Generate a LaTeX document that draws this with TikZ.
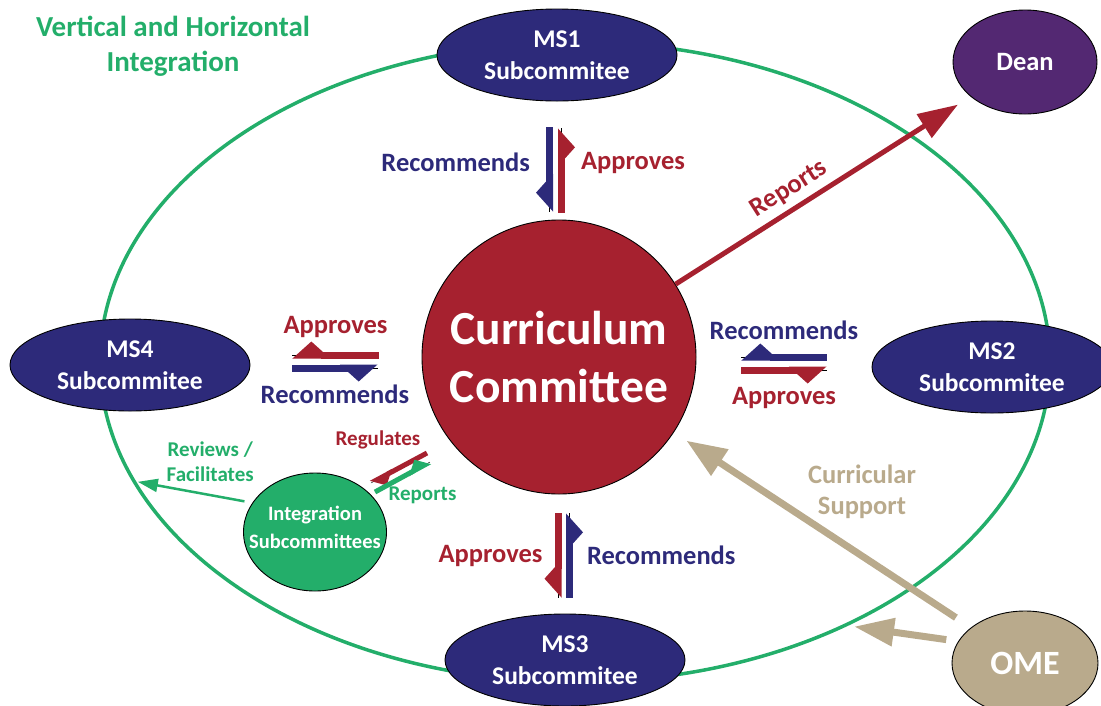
\documentclass[tikz,border=0pt]{standalone}
\usepackage{fontspec}
\setmainfont{Carlito}
\usetikzlibrary{%
  arrows.meta,%
  shapes.geometric,% ellipse
  positioning%
}
\definecolor{navy}{RGB}{45,42,122}
\definecolor{crimson}{RGB}{166,33,47}
\definecolor{leaf}{RGB}{35,174,106}
\definecolor{plum}{RGB}{83,40,114}
\definecolor{sand}{RGB}{185,170,140}
\newcommand{\fs}[2]{\bfseries\fontsize{#1}{#2}\selectfont}

\begin{document}
\begin{tikzpicture}[x=1pt,y=-1pt,
    sub/.style={ellipse,draw=black,line width=0.9pt,fill=navy,text=white,minimum width=240pt,
      minimum height=92pt,inner sep=0pt,align=center,font=\fs{25.5}{32}},
    harp/.style={line width=7pt,preaction={draw,arrows=-},-{Kite[#1,length=30pt,width=27pt,inset=15pt]}},
    thinharp/.style={line width=5pt,preaction={draw,arrows=-},-{Kite[#1,length=20pt,width=19pt,inset=10pt]}},
    lbl/.style={inner sep=1pt,font=\fs{26.5}{31}},
    small/.style={inner sep=1pt,font=\fs{21}{25},align=center}]
  \useasboundingbox (0,0) rectangle (1101,705);

  % outer ring
  \node[ellipse,draw=leaf,line width=3.5pt,minimum width=950pt,minimum height=640pt] (ring) at (575,362) {};
  \node[text=leaf,font=\fs{29}{35},align=center] (title) at (173,46) {Vertical and Horizontal\\Integration};

  \node[circle,draw=black,line width=0.9pt,fill=crimson,text=white,minimum size=274pt,inner sep=0pt,
    align=center,font=\fs{47.5}{58}] (cc) at (559,357) {Curriculum\\Committee};

  \node[sub] (ms1) at (557,55) {MS1\\Subcommitee};
  \node[sub] (ms2) at (992,367) {MS2\\Subcommitee};
  \node[sub] (ms3) at (565,660) {MS3\\Subcommitee};
  \node[sub] (ms4) at (130,365) {MS4\\Subcommitee};

  \node[ellipse,draw=black,line width=0.9pt,fill=plum,text=white,minimum width=144pt,minimum height=104pt,
    font=\fs{26.5}{30}] (dean) at (1025,62) {Dean};
  \node[ellipse,draw=black,line width=0.9pt,fill=sand,text=white,minimum width=146pt,minimum height=104pt,
    font=\fs{34}{40}] (ome) at (1025,663) {OME};
  % text is wider than the ellipse here, so it goes in as a label
  \node[ellipse,draw=black,line width=0.9pt,fill=leaf,minimum width=143pt,minimum height=118pt,inner sep=0pt,
    label={[text=white,align=center,font=\fs{20.5}{28},yshift=5pt]center:Integration\\Subcommittees}] (integ) at (315,532) {};

  %MS1
  \path ([shift={(-7.5,26)}]ms1.south) edge[harp=right,navy] node[lbl,navy,left=15pt,pos=0.42] {Recommends} ([shift={(-9.5,-8)}]cc.north)
        ([shift={(2.5,-7)}]cc.north) edge[harp=right,crimson] node[lbl,crimson,right=15pt,pos=0.59] {Approves} ([shift={(4.5,27)}]ms1.south);
  %MS4
  \path ([shift={(-43,-2)}]cc.west) edge[harp=right,crimson] node[lbl,crimson,above=13pt] {Approves} ([shift={(42,-10)}]ms4.east)
        ([shift={(42,3)}]ms4.east) edge[harp=right,navy] node[lbl,navy,below=12pt] {Recommends} ([shift={(-44,11)}]cc.west);
  %MS2
  \path ([shift={(-45,-10)}]ms2.west) edge[harp=right,navy] node[lbl,navy,above=13pt] {Recommends} ([shift={(45,0)}]cc.east)
        ([shift={(45,13)}]cc.east) edge[harp=right,crimson] node[lbl,crimson,below=13pt] {Approves} ([shift={(-45,3)}]ms2.west);
  %MS3
  \path ([shift={(-1,19)}]cc.south) edge[harp=right,crimson] node[lbl,crimson,left=11pt] {Approves} ([shift={(-7,-16)}]ms3.north)
        ([shift={(4.5,-16)}]ms3.north) edge[harp=right,navy] node[lbl,navy,right=13pt] {Recommends} ([shift={(10.5,19)}]cc.south);

  %integration
  \path ([shift={(-132,96)}]cc.center) edge[thinharp=left,crimson] node[small,crimson,xshift=-21pt,yshift=28pt] {Regulates} ([shift={(56,-49)}]integ.center)
        ([shift={(60,-40)}]integ.center) edge[thinharp=left,leaf] node[small,leaf,xshift=20pt,yshift=-18pt] {Reports} ([shift={(-129,105)}]cc.center);
  \path (integ.155) edge[leaf,line width=2.5pt,-{Triangle[length=20pt,width=13pt]},shorten <=8pt,shorten >=6pt]
        node[small,leaf,pos=0.35,above=11pt] {Reviews /\\Facilitates} (ring.195);

  %dean
  \path (cc.32) edge[crimson,line width=5pt,-{Triangle[length=40pt,width=27pt]},shorten >=15pt]
        node[lbl,crimson,sloped,above=5pt,pos=0.42] {Reports} (dean);

  %OME
  \path (ome) edge[sand,line width=7pt,-{Triangle[length=40pt,width=30pt]},shorten <=18pt,shorten >=15pt] (cc)
        (ome.162) edge[sand,line width=7pt,-{Triangle[length=40pt,width=27pt]},shorten <=12pt,shorten >=6pt] (ring.-44);
  \node[lbl,sand,align=center,font=\fs{26.5}{31}] (supp) at (862,492) {Curricular\\Support};
\end{tikzpicture}
\end{document}
